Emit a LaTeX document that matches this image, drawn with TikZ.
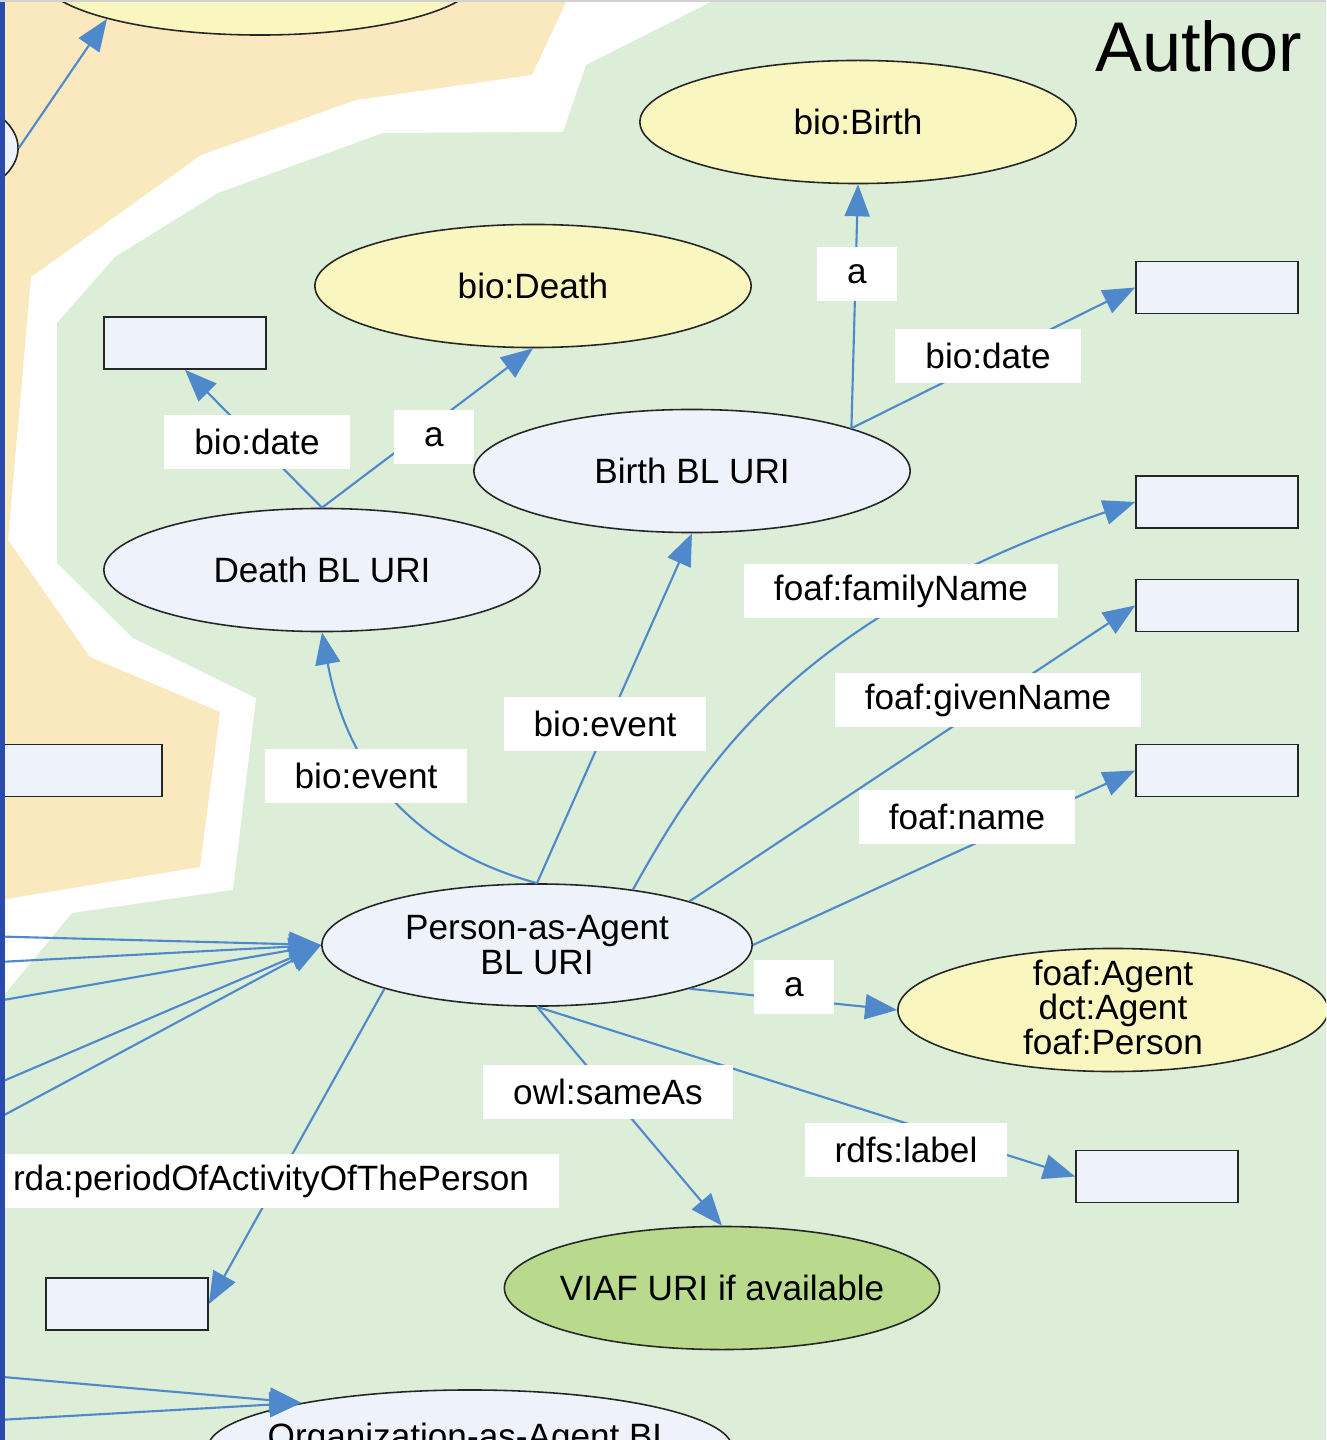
\documentclass[tikz,border=0pt]{standalone}
\usepackage{fontspec}
\setmainfont{Liberation Sans}
\usetikzlibrary{arrows.meta,shapes.geometric}
\definecolor{authorbg}{HTML}{DCEDD8}
\definecolor{workbg}{HTML}{FAE9BE}
\definecolor{urifill}{HTML}{EEF2FA}
\definecolor{clsfill}{HTML}{F9F6C0}
\definecolor{viaffill}{HTML}{B9D98C}
\definecolor{linkblue}{HTML}{4F89CB}
\definecolor{barblue}{HTML}{2B4AAE}

\begin{document}
\begin{tikzpicture}[x=0.01cm,y=-0.01cm,
  every node/.style={font=\fontsize{10pt}{9.8pt}\selectfont},
  uri/.style={ellipse,draw=black!85,line width=0.45pt,fill=urifill,minimum width=4.36cm,minimum height=1.23cm,inner sep=0pt,align=center},
  cls/.style={uri,fill=clsfill},
  lit/.style={rectangle,draw=black!85,line width=0.45pt,fill=urifill,minimum width=1.62cm,minimum height=0.52cm,inner sep=0pt},
  lbl/.style={rectangle,fill=white,inner xsep=0.3cm,inner ysep=0pt,minimum height=0.53cm},
  link/.style={draw=linkblue,line width=0.6pt,-{Triangle[length=0.32cm,width=0.25cm]}}]
  \useasboundingbox (0,0) rectangle (1326,1440);
  \clip (0,0) rectangle (1326,1440);

  % group areas
  \fill[workbg] (0,0) -- (567,0) -- (532,75) -- (356,100) -- (201,155) -- (31,277) -- (8,540)
    -- (90,657) -- (220,712) -- (200,867) -- (0,900) -- cycle;
  \fill[authorbg] (715,0) -- (1330,0) -- (1330,1445) -- (0,1445) -- (0,1000) -- (72,913) -- (233,890)
    -- (256,698) -- (133,638) -- (57,563) -- (57,323) -- (115,257) -- (218,193) -- (383,133)
    -- (563,132) -- (586,65) -- cycle;

  \node[anchor=base east,inner sep=0pt,font=\fontsize{20pt}{24pt}\selectfont] (title) at (1303,72) {Author};

  % nodes
  \node[cls,minimum width=4.4cm,minimum height=1.2cm] (topcls) at (260,-25) {};
  \node[uri,minimum width=2.56cm,minimum height=1.24cm] (agentleft) at (-110,148) {};
  \node[lit,minimum width=1.7cm] (bleft) at (77,770.5) {};

  \node[cls] (bbirth) at (858,122) {bio:Birth};
  \node[cls] (bdeath) at (533,286) {bio:Death};
  \node[uri] (birthuri) at (692,471) {Birth BL URI};
  \node[uri] (deathuri) at (322,570) {Death BL URI};
  \node[uri,minimum width=4.3cm,minimum height=1.22cm] (person) at (537,945) {Person-as-Agent\\BL URI};
  \node[cls,minimum width=4.3cm,label={[align=center,yshift=0.03cm]center:foaf:Agent\\dct:Agent\\foaf:Person}] (agentcls) at (1113,1010) {};
  \node[uri,fill=viaffill,minimum width=4.35cm,label=center:VIAF URI if available] (viaf) at (722,1288) {};
  \node[uri,minimum width=5.24cm,minimum height=1.16cm,label={[anchor=base,yshift=0.09cm]center:Organization-as-Agent BL}] (org) at (470,1448) {};

  \node[lit] (bdd) at (185,343) {};
  \node[lit] (bbd) at (1217,287.5) {};
  \node[lit] (bfam) at (1217,502) {};
  \node[lit] (bgiv) at (1217,605.5) {};
  \node[lit] (bnam) at (1217,770.5) {};
  \node[lit] (blab) at (1157,1176.5) {};
  \node[lit] (bper) at (127,1304) {};

  \coordinate (in1) at (-20,936);
  \coordinate (in2) at (-20,963);
  \coordinate (in3) at (-20,1004);
  \coordinate (in4) at (-20,1091);
  \coordinate (in5) at (-20,1128);
  \coordinate (oin1) at (-20,1375);
  \coordinate (oin2) at (-20,1421);

  % connectors
  \draw[link] (agentleft.0) -- (topcls.196);
  \draw[link] (birthuri.15) -- (bbirth.south);
  \draw[link] (birthuri.15) -- (bbd.west);
  \draw[link] (deathuri.north) -- (bdd.south);
  \draw[link] (deathuri.north) -- (bdeath.south);
  \draw[link] (person.north) -- (birthuri.south);
  \draw[link] (person.north) .. controls (380,840) and (340,730) .. (deathuri.south);
  \draw[link] (person.30) .. controls (700,770) and (790,620) .. (bfam.west);
  \draw[link] (person.16) -- (bgiv.west);
  \draw[link] (person.east) -- (bnam.west);
  \draw[link] (person.-16) -- (agentcls.west);
  \draw[link] (person.south) -- (viaf.north);
  \draw[link] (person.south) -- (blab.west);
  \draw[link] (person.196) -- (bper.east);
  \foreach \c in {in1,in2,in3,in4,in5}
    \draw[link] (\c) -- (person.west);
  \draw[link] (oin1) -- (org.165);
  \draw[link] (oin2) -- (org.165);

  % edge labels
  \node[lbl] (la1) at (857,274) {a};
  \node[lbl] (ld1) at (988,356) {bio:date};
  \node[lbl] (ld2) at (257,442) {bio:date};
  \node[lbl] (la2) at (434,437) {a};
  \node[lbl] (lfam) at (901,591) {foaf:familyName};
  \node[lbl] (lgiv) at (988,700) {foaf:givenName};
  \node[lbl] (lev1) at (605,724) {bio:event};
  \node[lbl] (lev2) at (366,776) {bio:event};
  \node[lbl] (lnam) at (967,817) {foaf:name};
  \node[lbl] (la3) at (794,987) {a};
  \node[lbl] (lsame) at (608,1092) {owl:sameAs};
  \node[lbl] (lrdfs) at (906,1150) {rdfs:label};
  \node[lbl] (lper) at (271,1181) {rda:periodOfActivityOfThePerson};

  \fill[barblue] (0,0) rectangle (5,1440);
  \fill[black!18] (0,0) rectangle (1326,2);
\end{tikzpicture}
\end{document}
